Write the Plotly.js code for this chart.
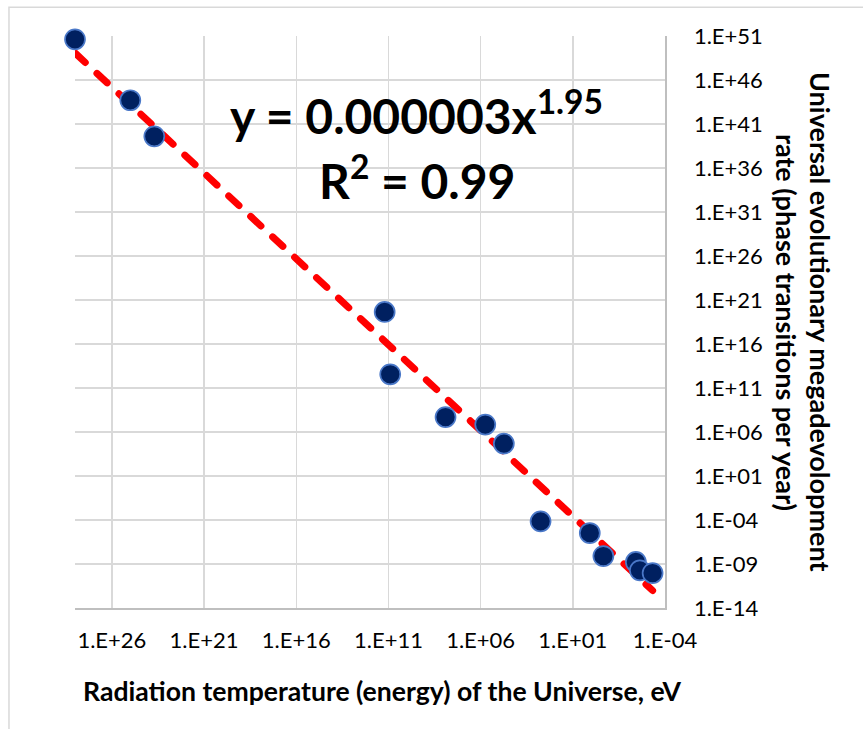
<!DOCTYPE html>
<html>
<head>
<meta charset="utf-8">
<script src="https://cdn.plot.ly/plotly-3.0.1.min.js"></script>
<style>
  html, body { margin: 0; padding: 0; background: #fff; }
  #chart { width: 863px; height: 729px; }
  #chart .scatterlayer path.js-line { stroke-linecap: round; }
</style>
</head>
<body>
<div id="chart"></div>
<script>
// Data
const radiationEnergyEv = [1e28, 1e25, 5e23, 1.6e11, 8e10, 8e7, 5.6e5, 5.5e4, 5.6e2, 1.2, 0.22, 3.8e-3, 2.3e-3, 4.7e-4];
const megadevelopmentRate = [4.2e50, 5e43, 4e39, 4.4e19, 3.6e12, 5e7, 7e6, 4.8e4, 7e-5, 3.3e-6, 8e-9, 1.7e-9, 1.9e-10, 9.3e-11];

// Power-law trendline stated on the chart: y = a * x^b
const trendCoefA = 0.000003;
const trendExpB = 1.95;
const equationText = 'y = 0.000003x<sup>1.95</sup>';
const r2Text = 'R<sup>2</sup> = 0.99';

const xTickVals = [1e26, 1e21, 1e16, 1e11, 1e6, 1e1, 1e-4];
const xTickText = ['1.E+26', '1.E+21', '1.E+16', '1.E+11', '1.E+06', '1.E+01', '1.E-04'];
const yTickVals = [1e51, 1e46, 1e41, 1e36, 1e31, 1e26, 1e21, 1e16, 1e11, 1e6, 1e1, 1e-4, 1e-9, 1e-14];
const yTickText = ['1.E+51', '1.E+46', '1.E+41', '1.E+36', '1.E+31', '1.E+26', '1.E+21', '1.E+16', '1.E+11', '1.E+06', '1.E+01', '1.E-04', '1.E-09', '1.E-14'];

const xTitle = 'Radiation temperature (energy) of the Universe, eV';
const yTitleLine1 = 'Universal evolutionary megadevolopment';
const yTitleLine2 = 'rate (phase transitions per year)';

const FONT = 'Lato, "Open Sans", sans-serif';

// trendline spans the data range
const xMin = Math.min(...radiationEnergyEv);
const xMax = Math.max(...radiationEnergyEv);
const trendX = [xMax, xMin];
const trendY = trendX.map(v => trendCoefA * Math.pow(v, trendExpB));

const traces = [
  {
    x: trendX, y: trendY, type: 'scatter', mode: 'lines',
    line: { color: '#FF0000', width: 7, dash: '14px,16px' },
    hoverinfo: 'skip', showlegend: false, cliponaxis: false
  },
  {
    x: radiationEnergyEv, y: megadevelopmentRate, type: 'scatter', mode: 'markers',
    marker: { size: 20, color: '#002060', line: { color: '#4A78C8', width: 1.7 } },
    showlegend: false, cliponaxis: false
  }
];

const layout = {
  width: 863, height: 729,
  margin: { l: 75, r: 198, t: 36, b: 121 },
  paper_bgcolor: '#ffffff', plot_bgcolor: '#ffffff',
  font: { family: FONT, color: '#000000', size: 22 },
  showlegend: false,
  xaxis: {
    type: 'log', range: [28, -4], autorange: false,
    tickvals: xTickVals, ticktext: xTickText,
    showgrid: true, gridcolor: '#D9D9D9', gridwidth: 1.5,
    showline: true, linecolor: '#BFBFBF', linewidth: 1.5, mirror: false,
    zeroline: false,
    ticks: 'outside', ticklen: 12, tickcolor: 'rgba(0,0,0,0)',
    tickfont: { family: FONT, size: 22, color: '#000' }
  },
  yaxis: {
    type: 'log', range: [-14, 51], autorange: false, side: 'right',
    tickvals: yTickVals, ticktext: yTickText,
    showgrid: true, gridcolor: '#D9D9D9', gridwidth: 1.5,
    showline: true, linecolor: '#BFBFBF', linewidth: 1.5, mirror: false,
    zeroline: false,
    ticks: 'outside', ticklen: 23, tickcolor: 'rgba(0,0,0,0)',
    tickfont: { family: FONT, size: 22, color: '#000' }
  },
  shapes: [
    {
      type: 'rect', xref: 'paper', yref: 'paper', layer: 'below',
      x0: -0.1119, x1: 1.4, y0: -0.3, y1: 1.0502,
      line: { color: '#D9D9D9', width: 1.5 }, fillcolor: 'rgba(0,0,0,0)'
    }
  ],
  annotations: [
    {
      text: equationText, xref: 'paper', yref: 'paper', x: 0.578, y: 0.866,
      xanchor: 'center', yanchor: 'middle', showarrow: false,
      font: { family: FONT, size: 48, color: '#000', weight: 'bold' }
    },
    {
      text: r2Text, xref: 'paper', yref: 'paper', x: 0.58, y: 0.752,
      xanchor: 'center', yanchor: 'middle', showarrow: false,
      font: { family: FONT, size: 48, color: '#000', weight: 'bold' }
    },
    {
      text: xTitle, xref: 'paper', yref: 'paper', x: (382.5 - 75) / 590, y: -0.1456,
      xanchor: 'center', yanchor: 'middle', showarrow: false,
      font: { family: FONT, size: 26.6, color: '#000', weight: 'bold' }
    },
    {
      text: yTitleLine1, xref: 'paper', yref: 'paper', x: 1.2644, y: 0.5,
      xanchor: 'center', yanchor: 'middle', showarrow: false, textangle: 90,
      font: { family: FONT, size: 27, color: '#000', weight: 'bold' }
    },
    {
      text: yTitleLine2, xref: 'paper', yref: 'paper', x: 1.2068, y: 0.5,
      xanchor: 'center', yanchor: 'middle', showarrow: false, textangle: 90,
      font: { family: FONT, size: 27, color: '#000', weight: 'bold' }
    }
  ]
};

Plotly.newPlot('chart', traces, layout, { staticPlot: true, displayModeBar: false }).then(function (gd) {
  gd.querySelectorAll('.scatterlayer path.js-line').forEach(function (p) {
    p.style.strokeLinecap = 'round';
  });
});
</script>
</body>
</html>
